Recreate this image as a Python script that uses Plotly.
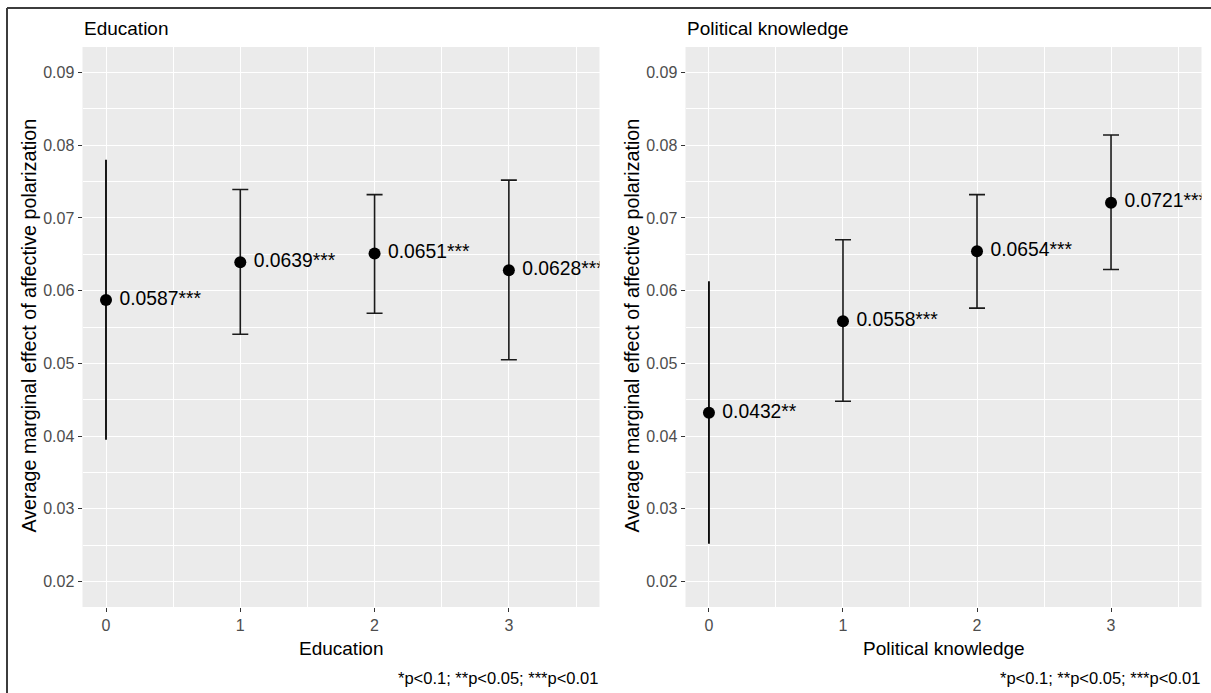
import plotly.graph_objects as go

# ---------------- data ----------------
levels = [0, 1, 2, 3]

edu_est = [0.0587, 0.0639, 0.0651, 0.0628]
edu_lo = [0.0395, 0.0540, 0.0569, 0.0505]
edu_hi = [0.0780, 0.0739, 0.0732, 0.0752]
edu_labels = ["0.0587***", "0.0639***", "0.0651***", "0.0628***"]

pk_est = [0.0432, 0.0558, 0.0654, 0.0721]
pk_lo = [0.0252, 0.0448, 0.0576, 0.0629]
pk_hi = [0.0613, 0.0670, 0.0732, 0.0814]
pk_labels = ["0.0432**", "0.0558***", "0.0654***", "0.0721***"]

panel_titles = ["Education", "Political knowledge"]
y_title = "Average marginal effect of affective polarization"
caption = "*p<0.1; **p<0.05; ***p<0.01"
y_ticks = [0.02, 0.03, 0.04, 0.05, 0.06, 0.07, 0.08, 0.09]

# ---------------- layout constants ----------------
W, H = 1211, 693
FONT = "Liberation Sans, Arial, sans-serif"
px = lambda v: v / W
py = lambda v: 1 - v / H

panels = [(82.5, 599.5), (685.5, 1201.5)]
ytop, ybot = 47, 607
label_nudge = 0.1

fig = go.Figure()

datasets = [(edu_est, edu_lo, edu_hi, edu_labels), (pk_est, pk_lo, pk_hi, pk_labels)]
for i, (est, lo, hi, labs) in enumerate(datasets):
    xa = "x" if i == 0 else "x2"
    ya = "y" if i == 0 else "y2"
    plus = [h - e for h, e in zip(hi, est)]
    minus = [e - l for e, l in zip(est, lo)]
    # first point: error line without caps
    fig.add_trace(go.Scatter(
        x=levels[:1], y=est[:1], mode="markers", xaxis=xa, yaxis=ya,
        marker=dict(color="black", size=12),
        error_y=dict(type="data", symmetric=False, array=plus[:1], arrayminus=minus[:1],
                     color="black", thickness=1.8, width=0),
        showlegend=False, hoverinfo="skip"))
    fig.add_trace(go.Scatter(
        x=levels[1:], y=est[1:], mode="markers", xaxis=xa, yaxis=ya,
        marker=dict(color="black", size=12),
        error_y=dict(type="data", symmetric=False, array=plus[1:], arrayminus=minus[1:],
                     color="#1a1a1a", thickness=1.6, width=8),
        showlegend=False, hoverinfo="skip"))
    fig.add_trace(go.Scatter(
        x=[v + label_nudge for v in levels], y=est, mode="text", text=labs,
        textposition="middle right", xaxis=xa, yaxis=ya,
        textfont=dict(family=FONT, size=19.3, color="black"),
        cliponaxis=True, showlegend=False, hoverinfo="skip"))

axis_common = dict(
    showline=False, zeroline=False, showgrid=True, gridcolor="white", gridwidth=1.4,
    ticks="outside", ticklen=4, tickwidth=1, tickcolor="#333333",
    tickfont=dict(family=FONT, size=16, color="#4D4D4D"),
)

layout = dict(
    width=W, height=H,
    margin=dict(l=0, r=0, t=0, b=0, autoexpand=False),
    paper_bgcolor="white", plot_bgcolor="#EBEBEB",
    font=dict(family=FONT),
    showlegend=False,
)
for i, (l, r) in enumerate(panels):
    sx = "" if i == 0 else "2"
    layout["xaxis" + sx] = dict(
        axis_common, domain=[px(l), px(r)], range=[-0.175, 3.675],
        tickvals=levels, ticktext=[str(v) for v in levels],
        minor=dict(dtick=0.5, tick0=0, showgrid=True, gridcolor="white", gridwidth=0.7, ticks=""),
        anchor="y" + sx, fixedrange=True)
    layout["yaxis" + sx] = dict(
        axis_common, domain=[py(ybot), py(ytop)], range=[0.0165, 0.0935],
        tickvals=y_ticks, ticktext=[f"{v:.2f}" for v in y_ticks],
        minor=dict(dtick=0.005, tick0=0, showgrid=True, gridcolor="white", gridwidth=0.7, ticks=""),
        anchor="x" + sx, fixedrange=True)
fig.update_layout(**layout)

annotations = []
for i, (l, r) in enumerate(panels):
    annotations.append(dict(text=panel_titles[i], x=px(l - 1), y=py(28), xref="paper", yref="paper",
                            xanchor="left", yanchor="middle", showarrow=False,
                            font=dict(family=FONT, size=19, color="black")))
    annotations.append(dict(text=panel_titles[i], x=px((l + r) / 2), y=py(648), xref="paper", yref="paper",
                            xanchor="center", yanchor="middle", showarrow=False,
                            font=dict(family=FONT, size=19, color="black")))
    annotations.append(dict(text=caption, x=px(r), y=py(678), xref="paper", yref="paper",
                            xanchor="right", yanchor="middle", showarrow=False,
                            font=dict(family=FONT, size=16.5, color="black")))
    annotations.append(dict(text=y_title, x=px(l - 54), y=py((ytop + ybot) / 2 - 1), xref="paper", yref="paper",
                            xanchor="center", yanchor="middle", textangle=-90, showarrow=False,
                            font=dict(family=FONT, size=19.7, color="black")))
fig.update_layout(annotations=annotations)

# outer frame (top and left edges)
fig.add_shape(type="line", xref="paper", yref="paper", x0=px(7), x1=1, y0=py(8), y1=py(8),
              line=dict(color="#3c3c3c", width=2))
fig.add_shape(type="line", xref="paper", yref="paper", x0=px(7), x1=px(7), y0=0, y1=py(8),
              line=dict(color="#3c3c3c", width=2))

fig.write_html("out.html")
